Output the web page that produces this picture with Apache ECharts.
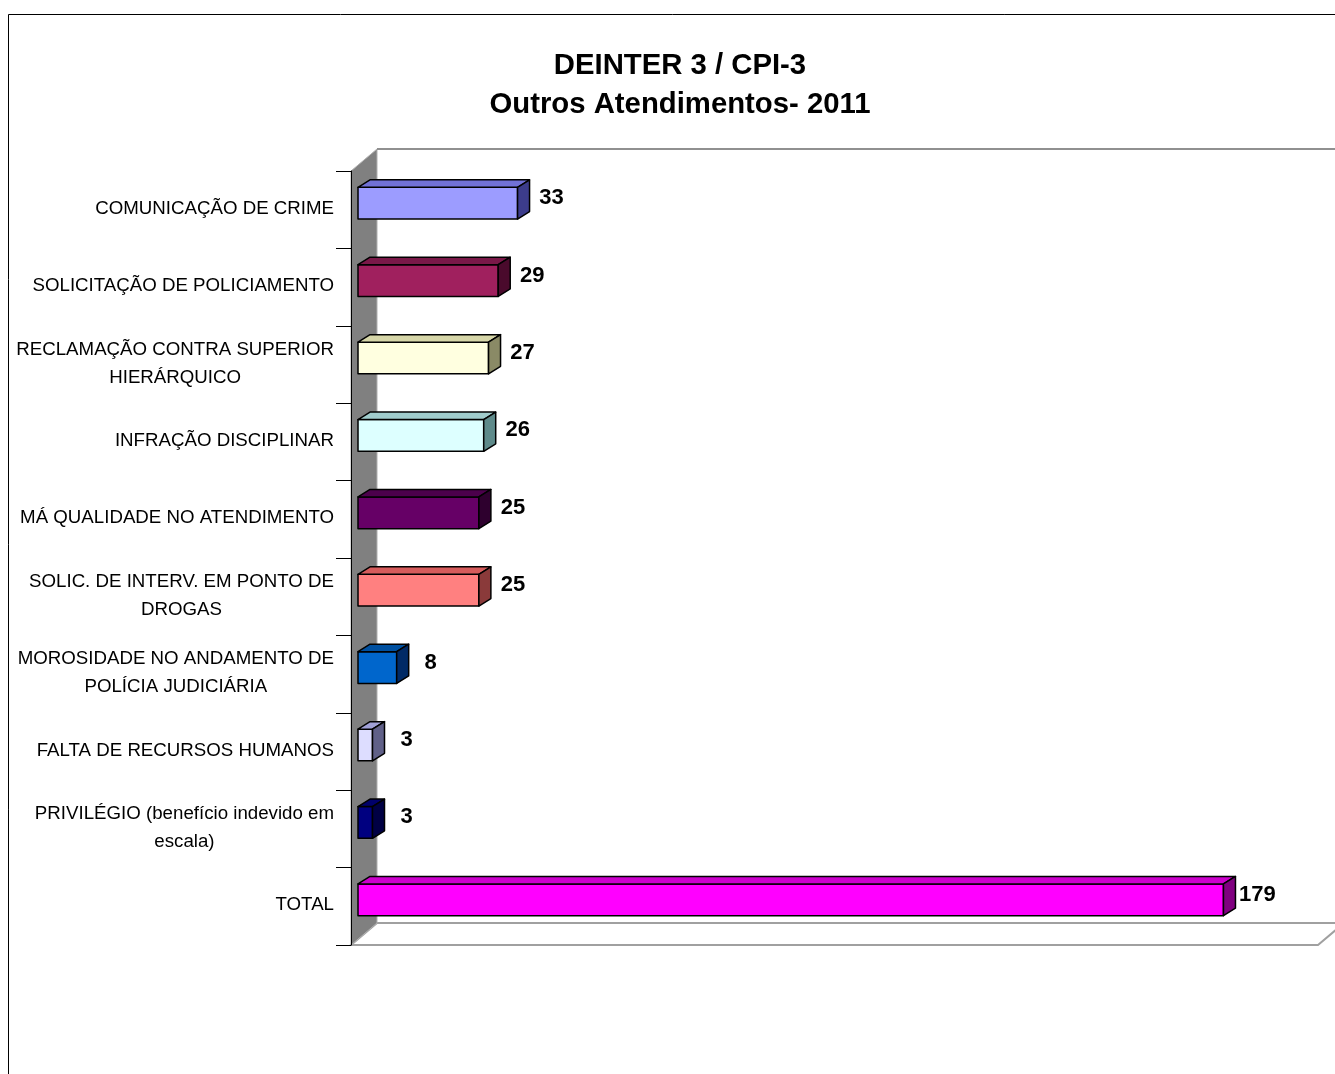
<!DOCTYPE html>
<html>
<head>
<meta charset="utf-8">
<script src="https://cdn.jsdelivr.net/npm/echarts@6/dist/echarts.min.js"></script>
<style>
html,body{margin:0;padding:0;background:#fff;}
#chart{width:1335px;height:1074px;}
</style>
</head>
<body>
<div id="chart"></div>
<script>
// ---- data ----
const categories = [
  'COMUNICAÇÃO DE CRIME',
  'SOLICITAÇÃO DE POLICIAMENTO',
  'RECLAMAÇÃO CONTRA SUPERIOR\nHIERÁRQUICO',
  'INFRAÇÃO DISCIPLINAR',
  'MÁ QUALIDADE NO ATENDIMENTO',
  'SOLIC. DE INTERV. EM PONTO DE\nDROGAS',
  'MOROSIDADE NO ANDAMENTO DE\nPOLÍCIA JUDICIÁRIA',
  'FALTA DE RECURSOS HUMANOS',
  'PRIVILÉGIO (benefício indevido em\nescala)',
  'TOTAL'
];
const values = [33, 29, 27, 26, 25, 25, 8, 3, 3, 179];
const axisMax = 200;
const titleLines = ['DEINTER 3 / CPI-3', 'Outros Atendimentos- 2011'];

// ---- styles ----
const frontColors = ['#9C9CFF','#A0205E','#FFFFE0','#DDFFFF','#660066','#FF8080','#0066CC','#DDDDFF','#000080','#FF00FF'];
const topColors   = ['#7171D6','#7A1848','#D6D6A8','#A0CCCC','#4C004C','#D65C5C','#0050A0','#A0A0D6','#00006A','#CC00CC'];
const sideColors  = ['#3C3C8C','#4A0A2C','#8A8A66','#5E8A8A','#2E002E','#8A3A3A','#002A66','#606088','#000044','#800080'];

const FONT = '"Liberation Sans", Arial, Helvetica, sans-serif';
const WALL_DX = 26, WALL_DY = -22;   // depth of the plot box
const PLANE_DX = 7, PLANE_DY = -6.5; // bar plane offset from front plane
const BAR_DX = 12, BAR_DY = -7.5;    // depth of each bar

const chart = echarts.init(document.getElementById('chart'), null, {renderer: 'canvas'});

function renderWalls(params, api) {
  const cs = params.coordSys;
  const x0 = cs.x, x1 = cs.x + cs.width, top = cs.y, bottom = cs.y + cs.height;
  return {
    type: 'group',
    children: [
      { type: 'polygon', shape: { points: [[x0, bottom], [x1, bottom], [x1 + WALL_DX, bottom + WALL_DY], [x0 + WALL_DX, bottom + WALL_DY]] },
        style: { fill: '#ffffff', stroke: '#a0a0a0', lineWidth: 2 } },
      { type: 'polygon', shape: { points: [[x0, top], [x0 + WALL_DX, top + WALL_DY], [x0 + WALL_DX, bottom + WALL_DY], [x0, bottom]] },
        style: { fill: '#808080', stroke: '#b0b0b0', lineWidth: 1 } },
      { type: 'line', shape: { x1: x0 + WALL_DX, y1: top + WALL_DY, x2: x1 + WALL_DX + 40, y2: top + WALL_DY },
        style: { stroke: '#909090', lineWidth: 2 } }
    ]
  };
}

function renderBar(params, api) {
  const i = params.dataIndex;
  const v = api.value(0);
  const c = api.value(1);
  const p0 = api.coord([0, c]);
  const p1 = api.coord([v, c]);
  const h = api.size([0, 1])[1] * 0.41;
  const xl = p0[0] + PLANE_DX, xr = p1[0] + PLANE_DX;
  const cy = p0[1] + PLANE_DY;
  const yt = cy - h / 2, yb = cy + h / 2;
  const st = { stroke: '#000', lineWidth: 1.5, lineJoin: 'round' };
  return {
    type: 'group',
    children: [
      { type: 'rect', shape: { x: xl, y: yt, width: xr - xl, height: h },
        style: Object.assign({ fill: frontColors[i] }, st) },
      { type: 'polygon', shape: { points: [[xl, yt], [xr, yt], [xr + BAR_DX, yt + BAR_DY], [xl + BAR_DX, yt + BAR_DY]] },
        style: Object.assign({ fill: topColors[i] }, st) },
      { type: 'polygon', shape: { points: [[xr, yt], [xr + BAR_DX, yt + BAR_DY], [xr + BAR_DX, yb + BAR_DY], [xr, yb]] },
        style: Object.assign({ fill: sideColors[i] }, st) },
      { type: 'text', x: xr + BAR_DX + 22, y: cy - 5,
        style: { text: String(v), fill: '#000', font: 'bold 22px ' + FONT, textAlign: 'center', textVerticalAlign: 'middle' } }
    ]
  };
}

const option = {
  animation: false,
  backgroundColor: '#ffffff',
  title: {
    text: titleLines.join('\n'),
    left: 675,
    textAlign: 'center',
    top: 41,
    textStyle: { fontFamily: FONT, fontSize: 29.3, fontWeight: 'bold', lineHeight: 39, color: '#000' }
  },
  graphic: [
    { type: 'rect', z: -10, silent: true, shape: { x: 8.5, y: 14.5, width: 1400, height: 1200 },
      style: { fill: 'none', stroke: '#000', lineWidth: 1 } }
  ],
  grid: { left: 351, right: 17, top: 171, bottom: 129, containLabel: false },
  xAxis: {
    type: 'value', min: 0, max: axisMax, interval: 20,
    show: false, splitLine: { show: false }
  },
  yAxis: {
    type: 'category', inverse: true, data: categories,
    axisLine: { show: true, lineStyle: { color: '#000', width: 1 } },
    axisTick: { show: true, length: 15, lineStyle: { color: '#000', width: 1 } },
    axisLabel: {
      margin: 17,
      color: '#000',
      fontFamily: FONT,
      fontSize: 18.7,
      padding: [0, 0, 2, 0],
      formatter: function (v) {
        return v.split('\n').map(function (l) { return '{c|' + l + '}'; }).join('\n');
      },
      rich: { c: { fontFamily: FONT, fontSize: 18.7, lineHeight: 28, align: 'center', color: '#000' } }
    },
    splitLine: { show: false },
    z: 5
  },
  series: [
    { type: 'custom', name: 'walls', renderItem: renderWalls, data: [[0, 0]], z: 1, silent: true, clip: false },
    { type: 'custom', name: 'bars', renderItem: renderBar, clip: false, z: 3,
      encode: { x: 0, y: 1 },
      data: values.map(function (v, i) { return [v, i]; }) }
  ]
};
chart.setOption(option);
</script>
</body>
</html>
